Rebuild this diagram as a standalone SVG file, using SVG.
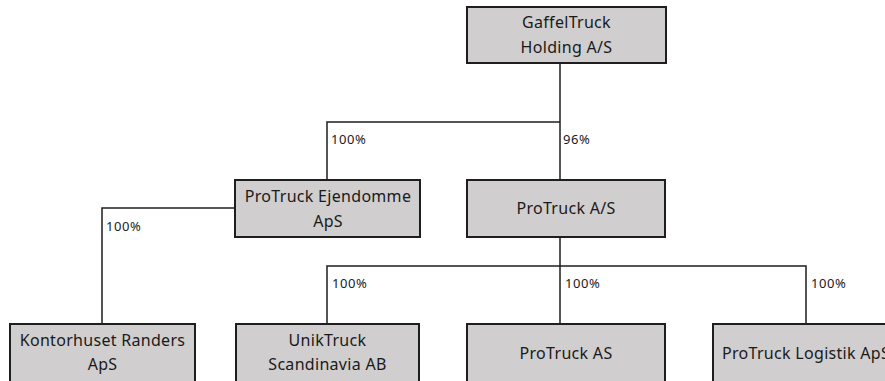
<svg xmlns="http://www.w3.org/2000/svg" width="885" height="381" viewBox="0 0 885 381">
<style>
.box{fill:#d0cece;stroke:#1e1e1e;stroke-width:2}
.t{font-family:"Noto Sans","Liberation Sans",sans-serif;font-size:16px;letter-spacing:0.3px;fill:#1a1a1a;text-anchor:middle}
.p{font-family:"Noto Sans","Liberation Sans",sans-serif;font-size:13px;letter-spacing:0.6px;fill:#1a1a1a}
.c{fill:none;stroke:#1e1e1e;stroke-width:1.5}
</style>
<rect width="885" height="381" fill="#fff"/>
<g id="connectors">
<path class="c" d="M560 63 V180 M560 122 H327 V180 M560 237 V324 M327 324 V266 H806 V324 M235 208 H102 V324"/>
<text class="p" x="331" y="144">100%</text>
<text class="p" x="563" y="144">96%</text>
<text class="p" x="106" y="231">100%</text>
<text class="p" x="332" y="288">100%</text>
<text class="p" x="565" y="288">100%</text>
<text class="p" x="811" y="288">100%</text>
</g>
<g id="gaffeltruck"><rect class="box" x="467" y="7" width="199" height="56"/><text class="t" x="566.5" y="28">GaffelTruck</text><text class="t" x="566.5" y="53">Holding A/S</text></g>
<g id="ejendomme"><rect class="box" x="235" y="180" width="185" height="57"/><text class="t" x="328" y="202">ProTruck Ejendomme</text><text class="t" x="328" y="227">ApS</text></g>
<g id="protruck-as-dk"><rect class="box" x="467" y="180" width="198" height="57"/><text class="t" x="566" y="214">ProTruck A/S</text></g>
<g id="kontorhuset"><rect class="box" x="10" y="324" width="185" height="62"/><text class="t" x="102.5" y="346">Kontorhuset Randers</text><text class="t" x="102.5" y="370">ApS</text></g>
<g id="uniktruck"><rect class="box" x="236" y="324" width="183" height="62"/><text class="t" x="327.5" y="346">UnikTruck</text><text class="t" x="327.5" y="370">Scandinavia AB</text></g>
<g id="protruck-as"><rect class="box" x="467" y="324" width="198" height="62"/><text class="t" x="566" y="359">ProTruck AS</text></g>
<g id="logistik"><rect class="box" x="713" y="324" width="198" height="62"/><text class="t" x="722" y="359" style="text-anchor:start">ProTruck Logistik ApS</text></g>
</svg>
